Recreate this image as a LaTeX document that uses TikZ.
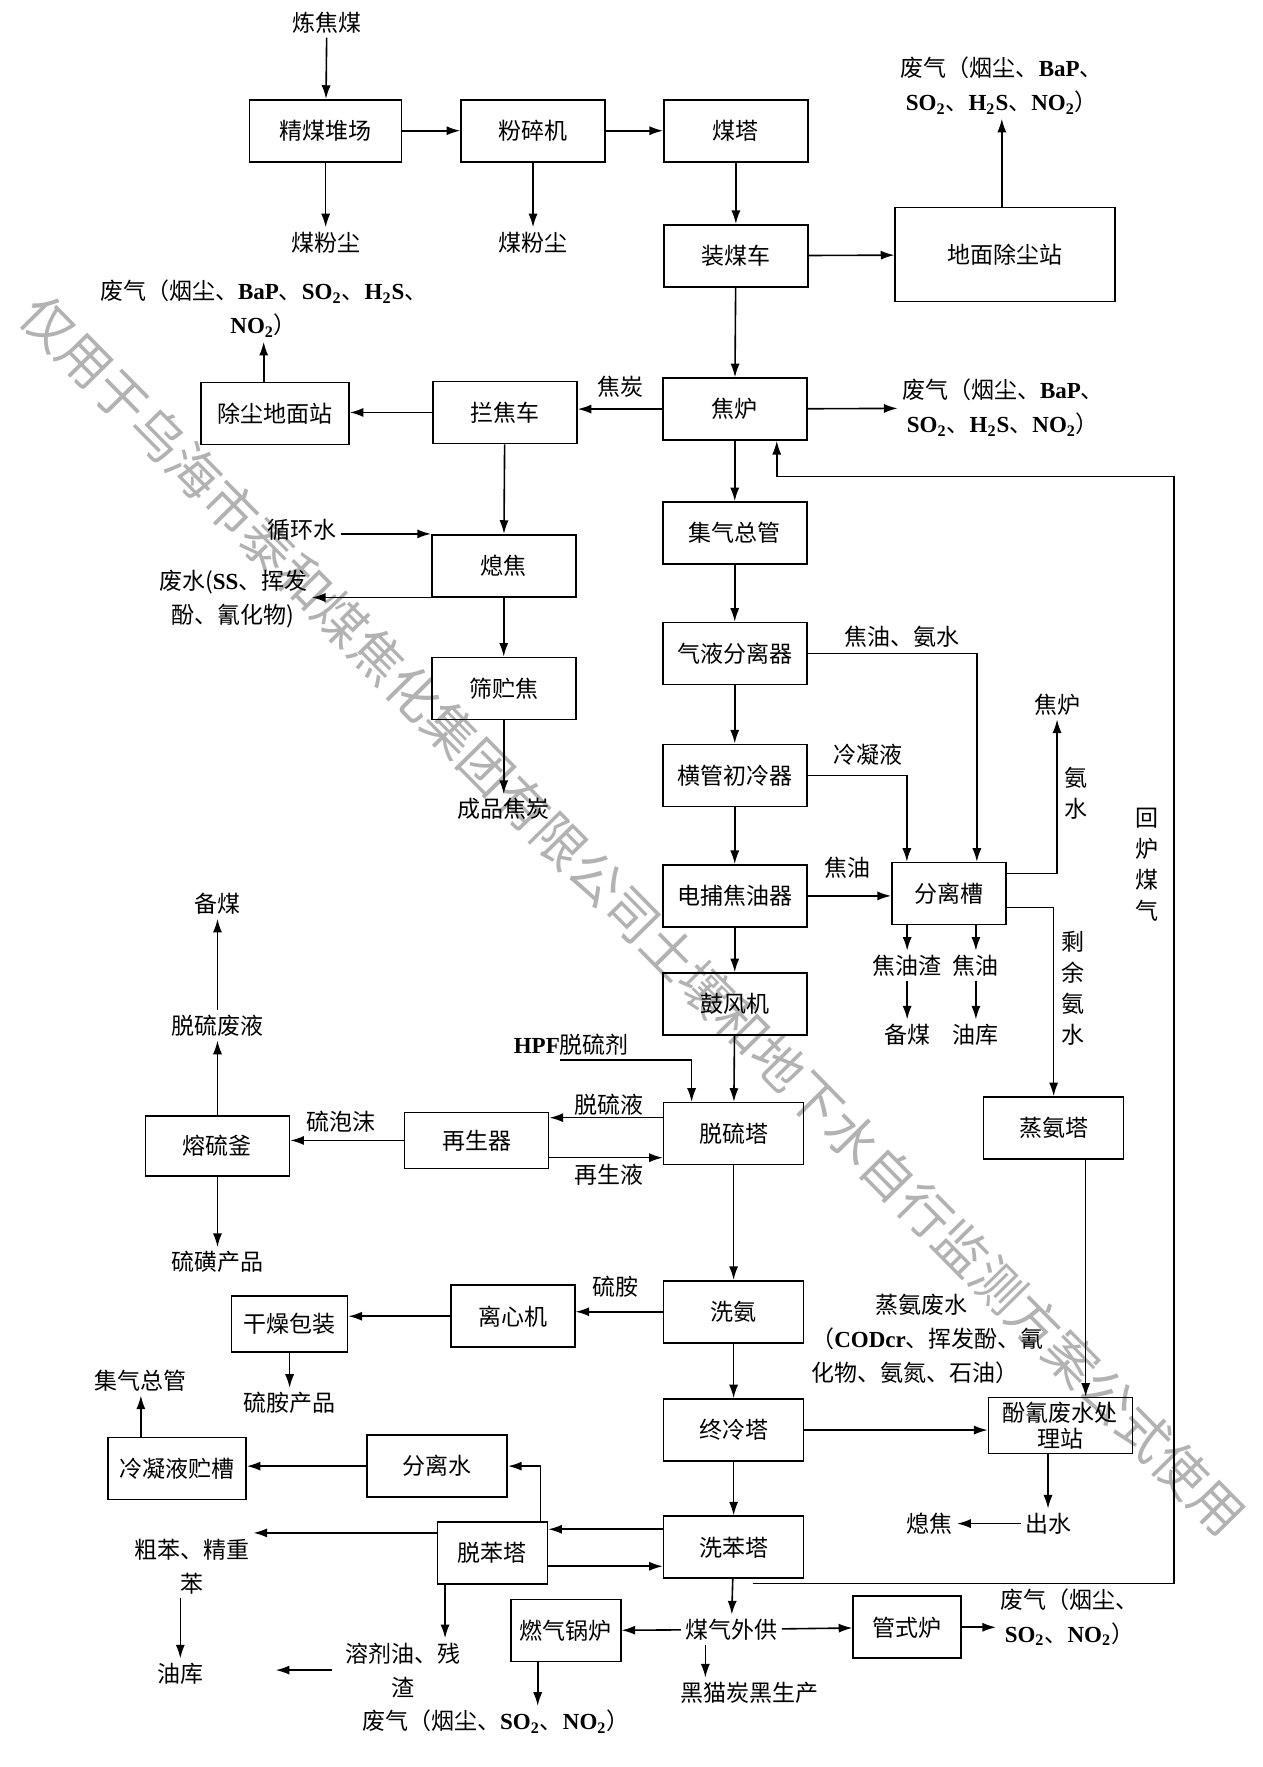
\documentclass[tikz,border=0pt]{standalone}
\usepackage{fontspec}
\setmainfont{Noto Sans CJK SC}
\newfontfamily\latin{Liberation Serif}
\usetikzlibrary{arrows.meta}
\newcommand\lt[1]{{\latin\bfseries #1}}
\newcommand\SOt{\lt{SO\textsubscript{2}}}
\newcommand\NOt{\lt{NO\textsubscript{2}}}
\newcommand\HtS{\lt{H\textsubscript{2}S}}

\begin{document}
\begin{tikzpicture}[x=0.5634pt, y=-0.5634pt,
  box/.style={draw, line width=0.8pt, minimum width=72pt, minimum height=31pt, inner sep=2pt,
              font=\fontsize{11.5}{13}\selectfont, align=center},
  lbl/.style={font=\fontsize{11.5}{17}\selectfont, align=center, inner sep=2pt},
  vlbl/.style={lbl, font=\fontsize{11.5}{15.5}\selectfont},
  arr/.style={-{Latex[length=2.4mm,width=1.6mm]}, line width=0.8pt},
  wmark/.style={font=\fontsize{26}{26}\selectfont, text=black!30, rotate=-45.4}
]
\fill[white] (0,0) rectangle (1120,1568);
\useasboundingbox (0,0) rectangle (1120,1568);

% watermark
\node[wmark] (wm) at (562,812) {仅用于乌海市泰和煤焦化集团有限公司土壤和地下水自行监测方案公式使用};

% coal preparation
\node[lbl] (ljm) at (290,20) {炼焦煤};
\node[box, minimum width=76pt] (jmdc) at (289,116) {精煤堆场};
\node[box] (fsj) at (473,116) {粉碎机};
\node[box] (mt) at (653,116) {煤塔};
\node[lbl] (mfc1) at (289,215) {煤粉尘};
\node[lbl] (mfc2) at (473,215) {煤粉尘};
\node[box] (zmc) at (653,227) {装煤车};
\node[box, minimum width=110pt, minimum height=47pt] (dmcc) at (892,226) {地面除尘站};
\node[lbl] (fq1) at (889,76) {废气（烟尘、\lt{BaP}、\\\SOt、\HtS、\NOt）};

% coke oven
\node[box] (jl) at (652,363) {焦炉};
\node[box] (ljc) at (448,366) {拦焦车};
\node[box, minimum width=74pt] (ccdm) at (244,367) {除尘地面站};
\node[lbl] (fq2) at (234,274) {废气（烟尘、\lt{BaP}、\SOt、\HtS、\\\NOt）};
\node[lbl] (fq3) at (890,362) {废气（烟尘、\lt{BaP}、\\\SOt、\HtS、\NOt）};
\node[lbl] (jt) at (551,343) {焦炭};

% quenching
\node[box] (xj) at (447,502) {熄焦};
\node[box] (szj) at (447,611) {筛贮焦};
\node[lbl] (xhs) at (268,470) {循环水};
\node[lbl] (fs) at (207,532) {废水(\lt{SS}、挥发\\酚、氰化物)};
\node[lbl] (cpjt) at (447,718) {成品焦炭};

% gas cleaning column
\node[box] (jqzg) at (652,473) {集气总管};
\node[box] (qyfl) at (652,580) {气液分离器};
\node[box] (hgcl) at (652,688) {横管初冷器};
\node[box] (dbjy) at (652,795) {电捕焦油器};
\node[box] (gfj) at (652,891) {鼓风机};
\node[box, minimum width=70pt] (tlt) at (651,1006) {脱硫塔};
\node[box, minimum width=70pt] (xa) at (651,1164) {洗氨};
\node[box, minimum width=70pt] (zlt) at (651,1269) {终冷塔};
\node[box, minimum width=70pt] (xbt) at (651,1373) {洗苯塔};
\node[lbl] (mqwg) at (649,1446) {煤气外供};

% tar and ammonia water
\node[box, minimum width=57pt] (flc) at (842,793) {分离槽};
\node[lbl] (jyas) at (800,565) {焦油、氨水};
\node[lbl] (lny) at (770,670) {冷凝液};
\node[lbl] (jy1) at (752,770) {焦油};
\node[lbl] (jlr) at (938,625) {焦炉};
\node[vlbl] (as) at (955,704) {氨\\水};
\node[vlbl] (sy) at (952,877) {剩\\余\\氨\\水};
\node[vlbl] (hl) at (1018,767) {回\\炉\\煤\\气};
\node[lbl] (jyz) at (805,857) {焦油渣};
\node[lbl] (jy2) at (866,857) {焦油};
\node[lbl] (bm2) at (805,918) {备煤};
\node[lbl] (yk2) at (866,918) {油库};
\node[box, minimum width=70pt] (zat) at (935,1001) {蒸氨塔};

% desulfurisation
\node[lbl] (hpf) at (507,927) {\lt{HPF}脱硫剂};
\node[box, minimum height=28pt] (zsq) at (423,1012) {再生器};
\node[lbl] (tly) at (540,980) {脱硫液};
\node[lbl] (zsy) at (540,1042) {再生液};
\node[box, minimum height=30pt] (rlf) at (193,1017) {熔硫釜};
\node[lbl] (lpm) at (303,995) {硫泡沫};
\node[lbl] (tlfy) at (193,910) {脱硫废液};
\node[lbl] (bm1) at (193,802) {备煤};
\node[lbl] (lhcp) at (193,1120) {硫磺产品};

% ammonium sulphate
\node[lbl] (la) at (546,1142) {硫胺};
\node[box, minimum width=62pt] (lxj) at (455,1168) {离心机};
\node[box, minimum width=58pt, minimum height=28pt] (gzbz) at (257,1175) {干燥包装};
\node[lbl] (lacp) at (257,1245) {硫胺产品};

% phenol-cyanide wastewater
\node[lbl] (zafs) at (818,1158) {蒸氨废水};
\node[lbl, align=left, anchor=west] (zafsc) at (716,1203) {（\lt{CODcr}、挥发酚、氰\\化物、氨氮、石油）};
\node[box, minimum height=28pt, inner sep=1pt] (fqcl) at (941,1265) {酚氰废水处\\理站};
\node[lbl] (cs) at (930,1352) {出水};
\node[lbl] (xj2) at (825,1352) {熄焦};

% benzene
\node[box, minimum width=55pt] (tbt) at (437,1378) {脱苯塔};
\node[box, minimum width=70pt] (flsh) at (388,1301) {分离水};
\node[box, minimum width=69pt] (lnc) at (157,1303) {冷凝液贮槽};
\node[lbl] (jqzg2) at (125,1225) {集气总管};
\node[lbl] (cb) at (170,1390) {粗苯、精重\\苯};
\node[lbl] (yk1) at (160,1485) {油库};
\node[lbl] (rjy) at (358,1482) {溶剂油、残\\渣};

% gas users
\node[box, minimum width=55pt] (rqgl) at (502,1447) {燃气锅炉};
\node[box, minimum width=54pt] (gsl) at (805,1444) {管式炉};
\node[lbl] (fq4) at (440,1528) {废气（烟尘、\SOt、\NOt）};
\node[lbl] (fq5) at (949,1435) {废气（烟尘、\\\SOt、\NOt）};
\node[lbl] (hmtc) at (665,1502) {黑猫炭黑生产};

% coal and oven arrows
\draw[arr] (ljm) -- (jmdc);
\draw[arr] (jmdc) -- (fsj);
\draw[arr] (fsj) -- (mt);
\draw[arr] (jmdc) -- (mfc1);
\draw[arr] (fsj) -- (mfc2);
\draw[arr] (mt) -- (zmc);
\draw[arr] (zmc) -- (dmcc);
\draw[arr] (dmcc.north -| fq1) -- (fq1);
\draw[arr] (zmc) -- (jl);
\draw[arr] (jl.west) -- (jl.west -| ljc.east);
\draw[arr] (ljc.west) -- (ljc.west -| ccdm.east);
\draw[arr] (ccdm.north -| fq2) -- (fq2);
\draw[arr] (jl) -- (fq3);
\draw[arr] (ljc) -- (xj);
\draw[arr] (xhs.east |- xj.north west) -- (xj.north west);
\draw[arr] (xj.south west) -- (xj.south west -| fs.east);
\draw[arr] (xj) -- (szj);
\draw[arr] (szj) -- (cpjt);

% gas cleaning arrows
\draw[arr] (jl) -- (jqzg);
\draw[arr] (jqzg) -- (qyfl);
\draw[arr] (qyfl) -- (hgcl);
\draw[arr] (hgcl) -- (dbjy);
\draw[arr] (dbjy) -- (gfj);
\draw[arr] (gfj) -- (tlt);
\draw[arr] (qyfl.east) -| ([xshift=14pt]flc.north);
\draw[arr] (hgcl.east) -| ([xshift=-21pt]flc.north);
\draw[arr] (dbjy.east) -- (dbjy.east -| flc.west);
\draw[arr] ([yshift=10pt]flc.east) -| (jlr.south);
\draw[arr] ([yshift=-7pt]flc.east) -| (zat.north);
\draw[arr] (flc.south -| jyz) -- (jyz);
\draw[arr] (flc.south -| jy2) -- (jy2);
\draw[arr] (jyz) -- (bm2);
\draw[arr] (jy2) -- (yk2);

% desulfurisation arrows
\draw[arr] ([xshift=-5.6pt]hpf.south) -| ([xshift=-21pt]tlt.north);
\draw[arr] ([yshift=8pt]tlt.west) -- ([yshift=8pt]tlt.west -| zsq.east);
\draw[arr] ([yshift=-12pt]tlt.west -| zsq.east) -- ([yshift=-12pt]tlt.west);
\draw[arr] (zsq.west) -- (zsq.west -| rlf.east);
\draw[arr] (rlf) -- (tlfy);
\draw[arr] (tlfy) -- (bm1);
\draw[arr] (rlf) -- (lhcp);

% ammonia and wastewater arrows
\draw[arr] (tlt) -- (xa);
\draw[arr] (xa.west) -- (xa.west -| lxj.east);
\draw[arr] (lxj.west) -- (lxj.west -| gzbz.east);
\draw[arr] (gzbz) -- (lacp);
\draw[arr] (xa) -- (zlt);
\draw[arr] ([xshift=16pt]zat.south) -- ([xshift=16pt]zat.south |- fqcl.north);
\draw[arr] (zlt.east) -- (zlt.east -| fqcl.west);
\draw[arr] (fqcl.south -| cs) -- (cs);
\draw[arr] (cs) -- (xj2);

% benzene arrows
\draw[arr] (zlt) -- (xbt);
\draw[arr] ([yshift=9pt]xbt.west) -- ([yshift=9pt]xbt.west -| tbt.east);
\draw[arr] ([yshift=-9.5pt]xbt.west -| tbt.east) -- ([yshift=-9.5pt]xbt.west);
\draw[arr] ([xshift=24pt]tbt.north) |- (flsh.east);
\draw[arr] (flsh.west) -- (flsh.west -| lnc.east);
\draw[arr] (lnc.north -| jqzg2) -- (jqzg2);
\draw[arr] ([yshift=10pt]tbt.west) -- ([yshift=10pt]tbt.west -| cb.east);
\draw[arr] (cb.south -| yk1) -- (yk1);
\draw[arr] ([xshift=-23.7pt]tbt.south) -- ([xshift=-23.7pt]tbt.south |- rjy.north);
\draw[arr, shorten <=5pt, shorten >=34pt] (rjy.west) -- (rjy.west -| yk1.east);

% coke oven gas out
\draw[arr] (xbt) -- (mqwg);
\draw[arr] (mqwg) -- (rqgl);
\draw[arr] (mqwg) -- (gsl);
\draw[arr] (gsl.east) -- (gsl.east -| fq5.west);
\draw[arr] ([xshift=-14pt]rqgl.south) -- ([xshift=-14pt]rqgl.south |- fq4.north);
\draw[arr] ([xshift=-13pt]mqwg.south) -- ([xshift=-13pt]mqwg.south |- hmtc.north);

% gas back to oven
\coordinate (hlA) at (668,1405);
\coordinate (hlB) at (1042,423);
\draw[arr] (hlA) -| (hlB) -| ([xshift=21pt]jl.south);
\end{tikzpicture}
\end{document}
